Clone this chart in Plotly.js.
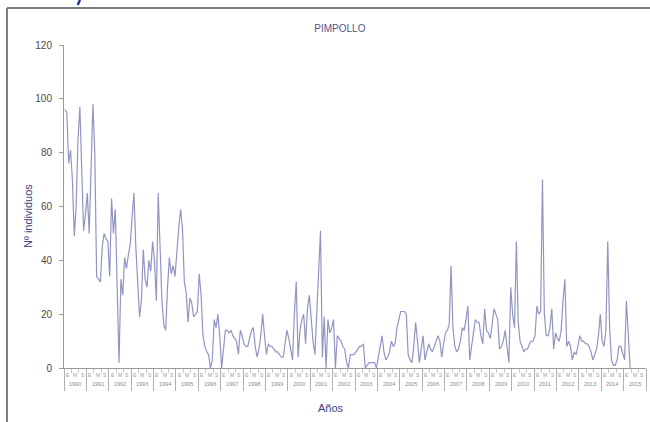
<!DOCTYPE html>
<html><head><meta charset="utf-8">
<script src="https://cdn.plot.ly/plotly-3.0.1.min.js"></script>
<style>html,body{margin:0;padding:0;background:#fff}#chart{width:650px;height:422px}</style>
</head><body><div id="chart"></div>
<script>
// Year labels of the category axis (one block of 12 months per year)
const years = [1990,1991,1992,1993,1994,1995,1996,1997,1998,1999,2000,2001,2002,2003,2004,2005,2006,2007,2008,2009,2010,2011,2012,2013,2014,2015];
// Small inner labels shown three times per year
const innerLabels = ['E','M','S'];
const innerMonth = [1, 5, 9];
// Monthly counts (Nº individuos)
const counts = [
 96,95,76,81,70,49,60,85,97,70,51,57,
 65,50,75,98,80,34,33,32,45,50,48,47,
 34,63,50,59,30,2,33,27,41,37,42,46,
 56,65,45,33,19,25,44,33,30,40,36,47,
 40,25,65,45,25,16,14,30,41,35,38,34,
 45,52,59,52,32,28,17,26,24,19,20,21,
 35,27,12,8,6,5,0,3,18,15,20,12,
 0,8,14,14,13,14,12,11,10,5,14,12,
 9,8,8,11,14,15,8,4,7,12,20,12,
 5,9,8,8,7,6,6,5,4,4,10,14,
 11,6,3,20,32,4,14,18,20,9,22,27,
 18,10,5,20,40,51,4,19,0,18,13,15,
 18,0,12,11,10,8,7,2,0,5,5,5,
 6,7,8,8,9,0,1,2,2,2,2,0,
 4,7,12,6,3,4,6,10,8,9,15,18,
 21,21,21,20,5,3,2,8,17,10,2,7,
 12,3,6,9,7,6,8,10,12,10,4,9,
 13,14,16,38,15,8,6,7,10,15,14,18,
 23,3,8,12,18,17,17,12,9,22,14,13,
 11,16,22,20,18,7,8,10,14,8,2,30,
 20,15,47,17,10,8,6,7,7,9,10,10,
 12,23,20,21,70,20,12,12,15,22,7,13,
 11,10,14,25,33,8,10,8,3,6,5,8,
 12,10,10,9,9,8,6,3,5,7,12,20,
 10,8,14,47,15,3,1,1,3,8,8,5,
 3,25,10,0
];

const xIdx = counts.map((_, i) => i);
const nMonths = years.length * 12;
const yearBounds = [];
for (let k = 0; k <= years.length; k++) yearBounds.push(12 * k - 0.5);
const innerPos = [];
years.forEach((_, k) => innerMonth.forEach(m => innerPos.push(12 * k + m)));

const FONT = 'Liberation Sans, Arial, sans-serif';
const annotations = [];
years.forEach((yr, k) => {
  annotations.push({x: 12 * k + 5.5, xref: 'x', y: -0.05, yref: 'paper', text: String(yr),
    showarrow: false, font: {size: 5.5, color: '#8a8a8a', family: FONT}, yanchor: 'middle'});
  innerMonth.forEach((m, j) => {
    annotations.push({x: 12 * k + m + 0.5, xref: 'x', y: -0.022, yref: 'paper', text: innerLabels[j],
      showarrow: false, font: {size: 5, color: '#9a9a9a', family: FONT}, yanchor: 'middle'});
  });
});
annotations.push({x: -0.062, xref: 'paper', y: 0.47, yref: 'paper', text: 'Nº individuos', textangle: -90,
  showarrow: false, xanchor: 'center', yanchor: 'middle', font: {size: 11, color: '#3e3e78', family: FONT}});
annotations.push({x: 0.458, xref: 'paper', y: -0.124, yref: 'paper', text: 'Años',
  showarrow: false, xanchor: 'center', yanchor: 'middle', font: {size: 11, color: '#3e3e78', family: FONT}});

const trace = {
  x: xIdx, y: counts, type: 'scatter', mode: 'lines',
  line: {color: '#9195c4', width: 1.2}, hoverinfo: 'skip'
};

const layout = {
  width: 650, height: 422,
  margin: {l: 64, r: 4, t: 45, b: 54},
  paper_bgcolor: '#ffffff', plot_bgcolor: '#ffffff',
  showlegend: false,
  font: {family: FONT},
  title: {text: 'PIMPOLLO', font: {size: 10, color: '#545488'}, x: 0.474, xref: 'paper', xanchor: 'center',
          y: 1 - 28 / 422, yref: 'container', yanchor: 'middle'},
  xaxis: {
    range: [-0.5, nMonths - 0.5], showgrid: false, zeroline: false,
    showline: true, linecolor: '#9a9a9a', linewidth: 1,
    tickmode: 'array', tickvals: yearBounds, ticks: 'outside', ticklen: 22, tickcolor: '#b0b0b0', tickwidth: 1,
    showticklabels: false,
    minor: {tickmode: 'array', tickvals: innerPos.map(v => v - 1.5), ticks: 'outside', ticklen: 4, tickcolor: '#c8c8c8', tickwidth: 1}
  },
  yaxis: {
    range: [0, 120], dtick: 20, tick0: 0, showgrid: false, zeroline: false,
    showline: true, linecolor: '#9a9a9a', linewidth: 1,
    ticks: 'outside', ticklen: 4, tickcolor: '#9a9a9a', ticklabelstandoff: 5,
    tickfont: {size: 10, color: '#4a4a4a'}
  },
  shapes: [
    {type: 'line', xref: 'paper', yref: 'paper', x0: -0.098, x1: 1.01, y0: 1.1146, y1: 1.1146, line: {color: '#7c7c7c', width: 2}},
    {type: 'line', xref: 'paper', yref: 'paper', x0: -0.098, x1: -0.098, y0: 1.1146, y1: -0.2, line: {color: '#7c7c7c', width: 2}},
    {type: 'line', xref: 'paper', yref: 'paper', x0: 0.0275, x1: 0.0235, y0: 1.1393, y1: 1.1238, line: {color: '#1c3c90', width: 2.5}}
  ],
  annotations: annotations
};

Plotly.newPlot('chart', [trace], layout, {displayModeBar: false, staticPlot: true});
</script>
</body></html>
